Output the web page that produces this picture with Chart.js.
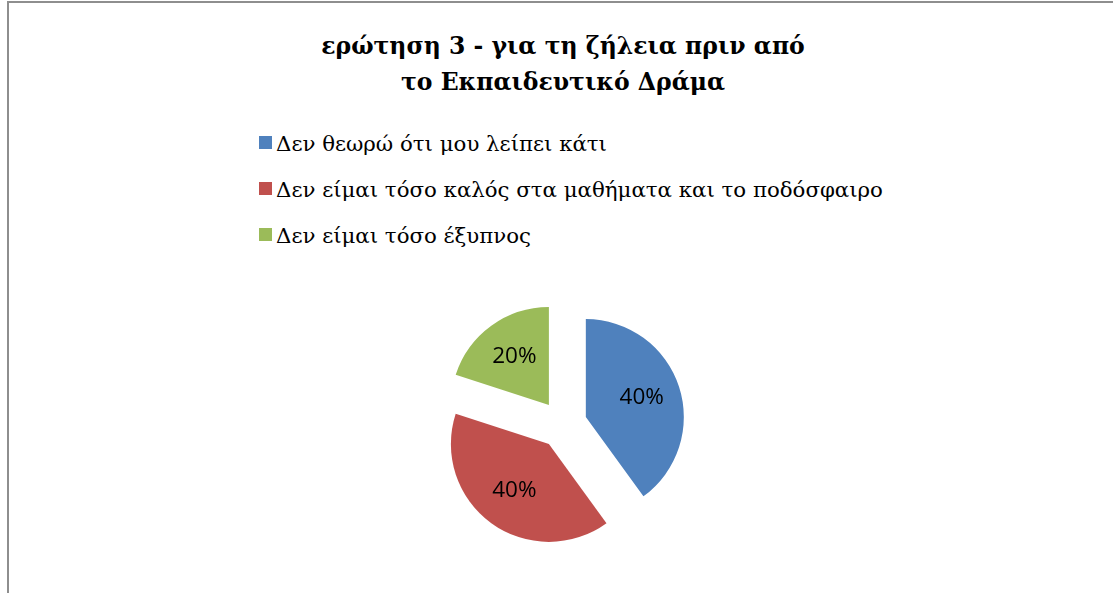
<!DOCTYPE html>
<html lang="el">
<head>
<meta charset="utf-8">
<title>ερώτηση 3 - για τη ζήλεια πριν από το Εκπαιδευτικό Δράμα</title>
<script src="https://cdn.jsdelivr.net/npm/chart.js@4.4.1/dist/chart.umd.min.js"></script>
<style>
  html, body { margin: 0; padding: 0; background: #fff; }
  #stage { position: relative; width: 1113px; height: 593px; overflow: hidden; background: #fff; }
  #frame {
    position: absolute; left: 7px; top: 1px; width: 1200px; height: 700px;
    border-left: 2px solid #8e8e8e; border-top: 2px solid #8e8e8e;
  }
  .title {
    position: absolute; left: 0; width: 1126px; text-align: center;
    font-family: "DejaVu Serif", serif; font-weight: bold;
    font-size: 23.5px; line-height: 37px; color: #000; white-space: nowrap;
  }
  #legend { position: absolute; left: 259px; top: 0; }
  .item {
    position: absolute; left: 0; white-space: nowrap;
    font-family: "DejaVu Serif", serif; font-size: 21.3px;
    line-height: 30px; color: #000;
  }
  .swatch { position: absolute; left: 0; width: 13px; height: 13px; }
  .item span.txt { position: absolute; left: 17px; top: 0; }
  #pie { position: absolute; left: 0; top: 0; }
</style>
</head>
<body>
<div id="stage">
  <div id="frame"></div>
  <div class="title" style="top:28.4px">ερώτηση 3 - για τη ζήλεια πριν από</div>
  <div class="title" style="top:64.4px">το Εκπαιδευτικό Δράμα</div>
  <div id="legend"></div>
  <canvas id="pie" width="1113" height="593"></canvas>
</div>
<script>
// Answers and their shares (percent)
const categories = [
  'Δεν θεωρώ ότι μου λείπει κάτι',
  'Δεν είμαι τόσο καλός στα μαθήματα και το ποδόσφαιρο',
  'Δεν είμαι τόσο έξυπνος'
];
const shares = [40, 40, 20];
const colors = ['#4F81BD', '#C0504D', '#9BBB59'];

// Slice explosion distance and label placement
const EXPLODE = 24;
const LABEL_R = 0.6;

// Legend rows: vertical list with square swatches
const legendEl = document.getElementById('legend');
const rowTops = [128.6, 174.6, 220.6];
categories.forEach((c, i) => {
  const row = document.createElement('div');
  row.className = 'item';
  row.style.top = rowTops[i] + 'px';
  const sw = document.createElement('div');
  sw.className = 'swatch';
  sw.style.top = '7.4px';
  sw.style.background = colors[i];
  const t = document.createElement('span');
  t.className = 'txt';
  t.textContent = c;
  row.appendChild(sw);
  row.appendChild(t);
  legendEl.appendChild(row);
});

// Draw each slice pushed outward along its mid angle
const explodePlugin = {
  id: 'explode',
  beforeDatasetDraw(chart, args) {
    const ctx = chart.ctx;
    args.meta.data.forEach(arc => {
      const mid = (arc.startAngle + arc.endAngle) / 2;
      ctx.save();
      ctx.translate(Math.cos(mid) * EXPLODE, Math.sin(mid) * EXPLODE);
      arc.draw(ctx);
      ctx.restore();
    });
    return false;
  }
};

// Percentage labels inside the slices
const labelPlugin = {
  id: 'sliceLabels',
  afterDatasetsDraw(chart) {
    const ctx = chart.ctx;
    const meta = chart.getDatasetMeta(0);
    const data = chart.data.datasets[0].data;
    const total = data.reduce((a, b) => a + b, 0);
    ctx.save();
    ctx.font = '22.5px "Open Sans", sans-serif';
    ctx.fillStyle = '#000';
    ctx.textAlign = 'center';
    ctx.textBaseline = 'middle';
    meta.data.forEach((arc, i) => {
      const mid = (arc.startAngle + arc.endAngle) / 2;
      const r = EXPLODE + arc.outerRadius * LABEL_R;
      const pct = Math.round(data[i] / total * 100) + '%';
      ctx.fillText(pct, arc.x + Math.cos(mid) * r, arc.y + Math.sin(mid) * r - 1);
    });
    ctx.restore();
  }
};

new Chart(document.getElementById('pie'), {
  type: 'pie',
  data: {
    labels: categories,
    datasets: [{
      data: shares,
      backgroundColor: colors,
      borderWidth: 0,
      hoverOffset: 0
    }]
  },
  options: {
    responsive: false,
    animation: false,
    radius: 98,
    layout: { padding: { left: 13, right: 0, top: 300, bottom: 44 } },
    plugins: {
      legend: { display: false },
      title: { display: false },
      tooltip: { enabled: false }
    },
    events: []
  },
  plugins: [explodePlugin, labelPlugin]
});
</script>
</body>
</html>
